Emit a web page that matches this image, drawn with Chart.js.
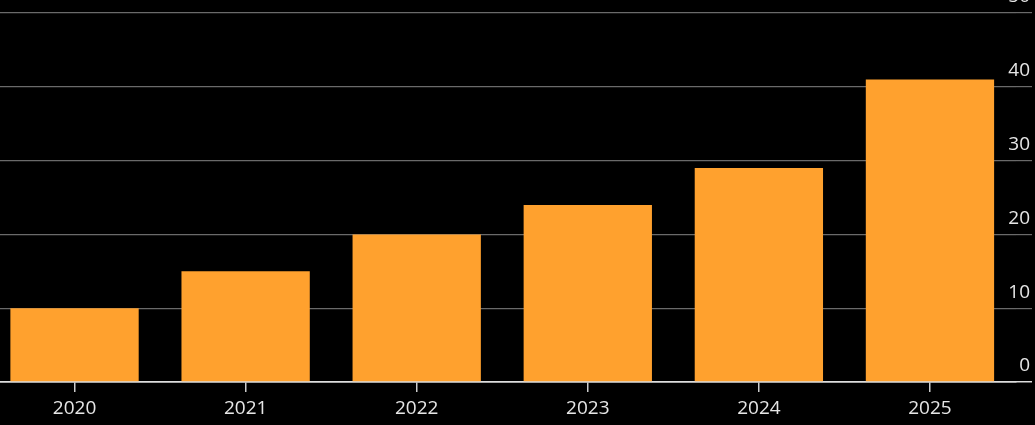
<!DOCTYPE html>
<html>
<head>
<meta charset="utf-8">
<script src="https://cdn.jsdelivr.net/npm/chart.js@4"></script>
<style>
  html, body { margin: 0; padding: 0; background: #000; overflow: hidden; }
  .page { position: relative; width: 1035px; height: 425px; overflow: hidden; }
  .chart-container { position: absolute; left: -11px; top: 0; width: 1046px; height: 425px; }
</style>
</head>
<body>
<div class="page">
  <div class="chart-container">
    <canvas id="myChart"></canvas>
  </div>
</div>
<script>
const years = ['2020', '2021', '2022', '2023', '2024', '2025'];
const values = [10, 15, 20, 24, 29, 41];
const yTicks = [0, 10, 20, 30, 40, 50];

const canvas = document.getElementById('myChart');
const ctx = canvas.getContext('2d');
const myChart = new Chart(ctx, {
  type: 'bar',
  data: {
    labels: years,
    datasets: [{
      data: values,
      backgroundColor: '#ffa12e',
      borderWidth: 0,
      categoryPercentage: 0.75,
      barPercentage: 1
    }]
  },
  options: {
    responsive: true,
    maintainAspectRatio: false,
    animation: false,
    layout: {
      padding: { left: 0, right: 3, top: 13, bottom: 0 }
    },
    plugins: {
      legend: { display: false },
      tooltip: { enabled: false }
    },
    scales: {
      x: {
        grid: {
          offset: false,
          drawOnChartArea: false,
          drawTicks: true,
          tickLength: 10,
          color: '#cccccc',
          lineWidth: 1.5
        },
        border: { display: true, color: '#dddddd', width: 1.5 },
        ticks: {
          color: '#e6e6e6',
          font: { family: 'Open Sans', size: 19 },
          padding: 5
        },
        afterFit: function (scale) {
          scale.height = 43;
          scale.paddingLeft = 0;
          scale.paddingRight = 0;
        }
      },
      y: {
        position: 'right',
        min: 0,
        max: 50,
        afterBuildTicks: function (scale) {
          scale.ticks = yTicks.map(v => ({ value: v }));
        },
        grid: {
          color: ctx => (ctx.tick && ctx.tick.value === 0) ? '#dddddd' : '#6a6a6a',
          lineWidth: ctx => (ctx.tick && ctx.tick.value === 0) ? 1.5 : 1.2,
          drawTicks: true,
          tickLength: 16.5
        },
        border: { display: false },
        ticks: {
          color: '#e6e6e6',
          font: { family: 'Open Sans', size: 19 },
          mirror: true,
          labelOffset: -16,
          padding: 14.5
        },
        afterFit: function (scale) {
          scale.width = 16.5;
          scale.paddingTop = 0;
          scale.paddingBottom = 0;
        }
      }
    }
  }
});
</script>
</body>
</html>
